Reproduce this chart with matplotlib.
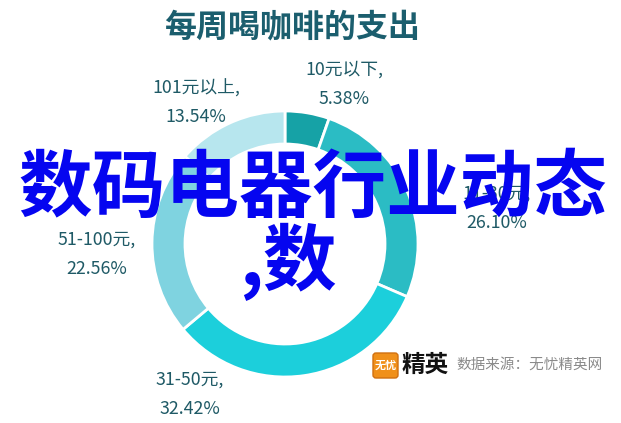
import matplotlib
matplotlib.use('Agg')
from matplotlib import pyplot as plt
from matplotlib.patches import FancyBboxPatch

plt.rcParams['font.family'] = ['Noto Sans CJK SC', 'DejaVu Sans']

# chart data
title = '每周喝咖啡的支出'
categories = ['10元以下', '11-30元', '31-50元', '51-100元', '101元以上']
shares = [5.38, 26.10, 32.42, 22.56, 13.54]
colors = ['#16a2a6', '#2bbcc4', '#1ccfdb', '#7fd3e0', '#b7e6ee']

W, H = 621, 423


def py(y):
    # pixel row (top-down) -> data y
    return H - y


fig = plt.figure(figsize=(W / 100, H / 100), dpi=100)
ax = fig.add_axes([0, 0, 1, 1])
ax.set_xlim(0, W)
ax.set_ylim(0, H)
ax.set_aspect('equal')
ax.axis('off')

ax.pie(shares, colors=colors, startangle=90, counterclock=False,
       center=(285, py(244)), radius=133,
       wedgeprops=dict(width=33, edgecolor='white', linewidth=2))
ax.set_xlim(0, W)
ax.set_ylim(0, H)

ax.text(292, py(27), title, ha='center', va='center', fontsize=23,
        fontweight='heavy', color='#1b5e6e')

# label anchors (pixels)
label_xy = [(344, 70), (497, 194), (190, 380), (97, 240), (196, 88)]
for (x, y), cat, s in zip(label_xy, categories, shares):
    ax.text(x, py(y), cat + ',', ha='center', va='center', fontsize=12.8,
            color='#1f5a66')
    ax.text(x, py(y + 29), '%.2f%%' % s, ha='center', va='center',
            fontsize=12.8, color='#1f5a66')

# watermark
ax.add_patch(FancyBboxPatch((373, py(378)), 25, 25,
                            boxstyle='round,pad=0,rounding_size=3',
                            fc='#f0901a', ec='#d07010'))
ax.text(385.5, py(365.5), '无忧', ha='center', va='center', fontsize=8,
        fontweight='bold', color='white')
ax.text(425, py(365), '精英', ha='center', va='center', fontsize=17,
        fontweight='bold', color='#111111')
ax.text(530, py(365), '数据来源：无忧精英网', ha='center', va='center',
        fontsize=10.5, color='#8a8a8a')

# overlay text
ax.text(313, py(190), '数码电器行业动态', ha='center', va='center',
        fontsize=53, fontweight='bold', color='#0505f0')
ax.text(288, py(262), ',数', ha='center', va='center',
        fontsize=53, fontweight='bold', color='#0505f0')

fig.savefig('out.png', dpi=100)
